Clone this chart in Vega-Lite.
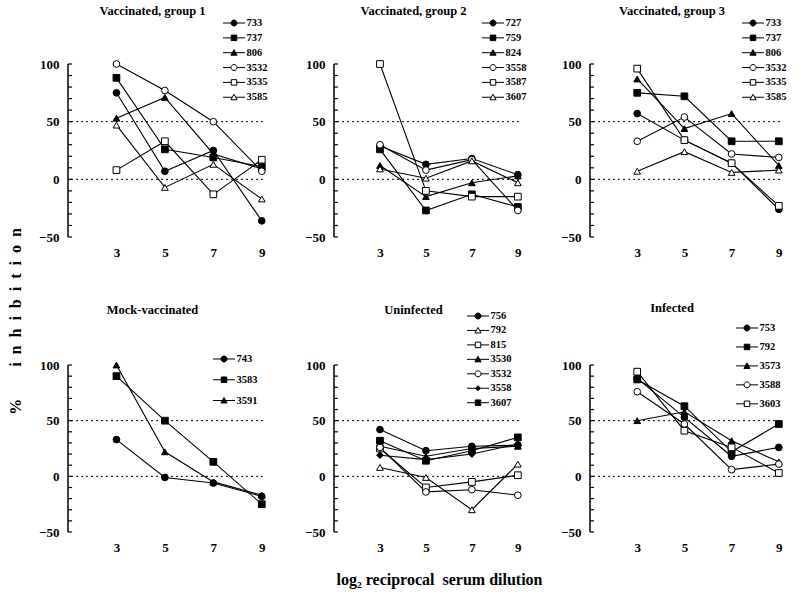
{
  "$schema": "https://vega.github.io/schema/vega-lite/v6.json",
  "padding": {"left": 7, "top": 5, "right": 5, "bottom": 5},
  "config": {
    "font": "Liberation Serif",
    "view": {"stroke": null},
    "axis": {"labelFontWeight": "bold", "labelFontSize": 13, "labelColor": "black", "grid": false, "labelFont": "Liberation Serif", "titleFont": "Liberation Serif", "labelOverlap": false},
    "title": {"font": "Liberation Serif", "fontSize": 12.5, "fontWeight": "bold", "color": "black"},
    "legend": {"labelFont": "Liberation Serif", "labelFontWeight": "bold", "labelFontSize": 10.5, "labelColor": "black", "symbolStrokeColor": "black", "symbolStrokeWidth": 1, "symbolSize": 100, "labelOffset": 7, "padding": 0, "symbolOffset": 0}
  },
  "datasets": {
    "g1": [
      {"animal": "733", "dilution": 3, "inhibition": 75}, {"animal": "733", "dilution": 5, "inhibition": 7}, {"animal": "733", "dilution": 7, "inhibition": 25}, {"animal": "733", "dilution": 9, "inhibition": -36},
      {"animal": "737", "dilution": 3, "inhibition": 88}, {"animal": "737", "dilution": 5, "inhibition": 26}, {"animal": "737", "dilution": 7, "inhibition": 19}, {"animal": "737", "dilution": 9, "inhibition": 11},
      {"animal": "806", "dilution": 3, "inhibition": 53}, {"animal": "806", "dilution": 5, "inhibition": 71}, {"animal": "806", "dilution": 7, "inhibition": 22}, {"animal": "806", "dilution": 9, "inhibition": 9},
      {"animal": "3532", "dilution": 3, "inhibition": 100}, {"animal": "3532", "dilution": 5, "inhibition": 77}, {"animal": "3532", "dilution": 7, "inhibition": 50}, {"animal": "3532", "dilution": 9, "inhibition": 7},
      {"animal": "3535", "dilution": 3, "inhibition": 8}, {"animal": "3535", "dilution": 5, "inhibition": 33}, {"animal": "3535", "dilution": 7, "inhibition": -13}, {"animal": "3535", "dilution": 9, "inhibition": 17},
      {"animal": "3585", "dilution": 3, "inhibition": 47}, {"animal": "3585", "dilution": 5, "inhibition": -7}, {"animal": "3585", "dilution": 7, "inhibition": 13}, {"animal": "3585", "dilution": 9, "inhibition": -17}
    ],
    "g2": [
      {"animal": "727", "dilution": 3, "inhibition": 29}, {"animal": "727", "dilution": 5, "inhibition": 13}, {"animal": "727", "dilution": 7, "inhibition": 18}, {"animal": "727", "dilution": 9, "inhibition": 4},
      {"animal": "759", "dilution": 3, "inhibition": 26}, {"animal": "759", "dilution": 5, "inhibition": -27}, {"animal": "759", "dilution": 7, "inhibition": -13}, {"animal": "759", "dilution": 9, "inhibition": -24},
      {"animal": "824", "dilution": 3, "inhibition": 12}, {"animal": "824", "dilution": 5, "inhibition": -15}, {"animal": "824", "dilution": 7, "inhibition": -3}, {"animal": "824", "dilution": 9, "inhibition": 3},
      {"animal": "3558", "dilution": 3, "inhibition": 30}, {"animal": "3558", "dilution": 5, "inhibition": 8}, {"animal": "3558", "dilution": 7, "inhibition": 17}, {"animal": "3558", "dilution": 9, "inhibition": -27},
      {"animal": "3587", "dilution": 3, "inhibition": 100}, {"animal": "3587", "dilution": 5, "inhibition": -10}, {"animal": "3587", "dilution": 7, "inhibition": -15}, {"animal": "3587", "dilution": 9, "inhibition": -15},
      {"animal": "3607", "dilution": 3, "inhibition": 9}, {"animal": "3607", "dilution": 5, "inhibition": 1}, {"animal": "3607", "dilution": 7, "inhibition": 16}, {"animal": "3607", "dilution": 9, "inhibition": -3}
    ],
    "g3": [
      {"animal": "733", "dilution": 3, "inhibition": 57}, {"animal": "733", "dilution": 5, "inhibition": 34}, {"animal": "733", "dilution": 7, "inhibition": 14}, {"animal": "733", "dilution": 9, "inhibition": -26},
      {"animal": "737", "dilution": 3, "inhibition": 75}, {"animal": "737", "dilution": 5, "inhibition": 72}, {"animal": "737", "dilution": 7, "inhibition": 33}, {"animal": "737", "dilution": 9, "inhibition": 33},
      {"animal": "806", "dilution": 3, "inhibition": 87}, {"animal": "806", "dilution": 5, "inhibition": 44}, {"animal": "806", "dilution": 7, "inhibition": 57}, {"animal": "806", "dilution": 9, "inhibition": 12},
      {"animal": "3532", "dilution": 3, "inhibition": 33}, {"animal": "3532", "dilution": 5, "inhibition": 54}, {"animal": "3532", "dilution": 7, "inhibition": 22}, {"animal": "3532", "dilution": 9, "inhibition": 19},
      {"animal": "3535", "dilution": 3, "inhibition": 96}, {"animal": "3535", "dilution": 5, "inhibition": 34}, {"animal": "3535", "dilution": 7, "inhibition": 14}, {"animal": "3535", "dilution": 9, "inhibition": -23},
      {"animal": "3585", "dilution": 3, "inhibition": 7}, {"animal": "3585", "dilution": 5, "inhibition": 24}, {"animal": "3585", "dilution": 7, "inhibition": 6}, {"animal": "3585", "dilution": 9, "inhibition": 8}
    ],
    "mock": [
      {"animal": "743", "dilution": 3, "inhibition": 33}, {"animal": "743", "dilution": 5, "inhibition": -1}, {"animal": "743", "dilution": 7, "inhibition": -6}, {"animal": "743", "dilution": 9, "inhibition": -18},
      {"animal": "3583", "dilution": 3, "inhibition": 90}, {"animal": "3583", "dilution": 5, "inhibition": 50}, {"animal": "3583", "dilution": 7, "inhibition": 13}, {"animal": "3583", "dilution": 9, "inhibition": -25},
      {"animal": "3591", "dilution": 3, "inhibition": 100}, {"animal": "3591", "dilution": 5, "inhibition": 22}, {"animal": "3591", "dilution": 7, "inhibition": -5}, {"animal": "3591", "dilution": 9, "inhibition": -17}
    ],
    "uninf": [
      {"animal": "756", "dilution": 3, "inhibition": 42}, {"animal": "756", "dilution": 5, "inhibition": 23}, {"animal": "756", "dilution": 7, "inhibition": 27}, {"animal": "756", "dilution": 9, "inhibition": 28},
      {"animal": "792", "dilution": 3, "inhibition": 8}, {"animal": "792", "dilution": 5, "inhibition": -1}, {"animal": "792", "dilution": 7, "inhibition": -30}, {"animal": "792", "dilution": 9, "inhibition": 11},
      {"animal": "815", "dilution": 3, "inhibition": 25}, {"animal": "815", "dilution": 5, "inhibition": -10}, {"animal": "815", "dilution": 7, "inhibition": -5}, {"animal": "815", "dilution": 9, "inhibition": 1},
      {"animal": "3530", "dilution": 3, "inhibition": 27}, {"animal": "3530", "dilution": 5, "inhibition": 18}, {"animal": "3530", "dilution": 7, "inhibition": 25}, {"animal": "3530", "dilution": 9, "inhibition": 27},
      {"animal": "3532", "dilution": 3, "inhibition": 26}, {"animal": "3532", "dilution": 5, "inhibition": -14}, {"animal": "3532", "dilution": 7, "inhibition": -12}, {"animal": "3532", "dilution": 9, "inhibition": -17},
      {"animal": "3558", "dilution": 3, "inhibition": 19}, {"animal": "3558", "dilution": 5, "inhibition": 15}, {"animal": "3558", "dilution": 7, "inhibition": 20}, {"animal": "3558", "dilution": 9, "inhibition": 29},
      {"animal": "3607", "dilution": 3, "inhibition": 32}, {"animal": "3607", "dilution": 5, "inhibition": 14}, {"animal": "3607", "dilution": 7, "inhibition": 23}, {"animal": "3607", "dilution": 9, "inhibition": 35}
    ],
    "inf": [
      {"animal": "753", "dilution": 3, "inhibition": 88}, {"animal": "753", "dilution": 5, "inhibition": 53}, {"animal": "753", "dilution": 7, "inhibition": 18}, {"animal": "753", "dilution": 9, "inhibition": 26},
      {"animal": "792", "dilution": 3, "inhibition": 87}, {"animal": "792", "dilution": 5, "inhibition": 63}, {"animal": "792", "dilution": 7, "inhibition": 22}, {"animal": "792", "dilution": 9, "inhibition": 47},
      {"animal": "3573", "dilution": 3, "inhibition": 50}, {"animal": "3573", "dilution": 5, "inhibition": 58}, {"animal": "3573", "dilution": 7, "inhibition": 32}, {"animal": "3573", "dilution": 9, "inhibition": 13},
      {"animal": "3588", "dilution": 3, "inhibition": 76}, {"animal": "3588", "dilution": 5, "inhibition": 47}, {"animal": "3588", "dilution": 7, "inhibition": 6}, {"animal": "3588", "dilution": 9, "inhibition": 11},
      {"animal": "3603", "dilution": 3, "inhibition": 94}, {"animal": "3603", "dilution": 5, "inhibition": 41}, {"animal": "3603", "dilution": 7, "inhibition": 26}, {"animal": "3603", "dilution": 9, "inhibition": 3}
    ],
    "refs": [{"level": 0}, {"level": 50}],
    "frame": [{"lo": -50, "hi": 100}],
    "ticks": [{"t": -50}, {"t": -40}, {"t": -30}, {"t": -20}, {"t": -10}, {"t": 0}, {"t": 10}, {"t": 20}, {"t": 30}, {"t": 40}, {"t": 50}, {"t": 60}, {"t": 70}, {"t": 80}, {"t": 90}, {"t": 100}]
  },
  "columns": 3,
  "bounds": "flush",
  "spacing": {"row": 128, "column": 71},
  "resolve": {"scale": {"x": "independent", "y": "independent", "fill": "independent", "shape": "independent"}, "legend": {"fill": "independent", "shape": "independent"}},
  "concat": [
    {
      "title": {"text": "Vaccinated, group 1", "dx": -13, "offset": 0},
      "width": 195, "height": 173,
      "layer": [
        {"data": {"name": "refs"}, "mark": {"type": "rule", "color": "black", "strokeWidth": 1, "strokeDash": [2, 3]},
         "encoding": {"y": {"field": "level", "type": "quantitative", "scale": {"domain": [-50, 100], "nice": false}, "axis": {"orient": "left", "values": [-50, 0, 50, 100], "ticks": false, "domain": false, "labelPadding": 9,
           "title": "%\u00a0\u00a0\u00a0\u00a0\u00a0\u00a0\u00a0\u00a0i\u00a0\u00a0n\u00a0\u00a0h\u00a0\u00a0i\u00a0\u00a0b\u00a0\u00a0i\u00a0\u00a0t\u00a0\u00a0i\u00a0\u00a0o\u00a0\u00a0n", "titleX": -53, "titleY": 257, "titleAngle": -90, "titleBaseline": "middle", "titleAlign": "center", "titleFontSize": 16, "titleFontWeight": "bold", "titleColor": "black"}}}},
        {"data": {"name": "frame"}, "mark": {"type": "rule", "color": "black", "strokeWidth": 1.5},
         "encoding": {"x": {"datum": 1, "type": "quantitative"}, "y": {"field": "lo", "type": "quantitative"}, "y2": {"field": "hi"}}},
        {"data": {"name": "ticks"}, "mark": {"type": "rule", "color": "black", "strokeWidth": 1.2},
         "encoding": {"x": {"datum": 1, "type": "quantitative"}, "x2": {"datum": 1.17}, "y": {"field": "t", "type": "quantitative"}}},
        {"data": {"name": "g1"}, "mark": {"type": "line", "color": "black", "strokeWidth": 1.1},
         "encoding": {"x": {"field": "dilution", "type": "quantitative", "scale": {"domain": [1, 9.05], "nice": false, "zero": false}, "axis": {"values": [3,5,7,9], "domain": false, "ticks": false, "labelPadding": 9, "title": null}},
           "y": {"field": "inhibition", "type": "quantitative"}, "detail": {"field": "animal", "type": "nominal"}}},
        {"data": {"name": "g1"}, "mark": {"type": "point", "filled": true, "stroke": "black", "strokeWidth": 1, "opacity": 1, "size": 45},
         "encoding": {"x": {"field": "dilution", "type": "quantitative"}, "y": {"field": "inhibition", "type": "quantitative"},
           "shape": {"field": "animal", "type": "nominal", "scale": {"domain": ["3585","3535","3532","806","737","733"], "range": ["triangle-up","square","circle","triangle-up","square","circle"]}, "legend": null},
           "fill": {"field": "animal", "type": "nominal", "scale": {"domain": ["733","737","806","3532","3535","3585"], "range": ["black","black","black","white","white","white"]},
             "legend": {"title": null, "orient": "none", "legendX": 160.5, "legendY": -46.5, "rowPadding": 3.85,
               "symbolType": {"expr": "['M-2.2,0H-0.6M0.6,0H2.2M-0.6,0A0.6,0.6,0,1,1,0.6,0A0.6,0.6,0,1,1,-0.6,0Z','M-2.2,0H-0.55M0.55,0H2.2M-0.55,-0.55H0.55V0.55H-0.55Z','M-2.2,0H-0.33M0.33,0H2.2M0,-0.6L0.62,0.5H-0.62Z','M-2.2,0H-0.6M0.6,0H2.2M-0.6,0A0.6,0.6,0,1,1,0.6,0A0.6,0.6,0,1,1,-0.6,0Z','M-2.2,0H-0.55M0.55,0H2.2M-0.55,-0.55H0.55V0.55H-0.55Z','M-2.2,0H-0.33M0.33,0H2.2M0,-0.6L0.62,0.5H-0.62Z'][indexof(['733','737','806','3532','3535','3585'], datum.value)]"}}}}}
      ]
    },
    {
      "title": {"text": "Vaccinated, group 2", "dx": -13, "offset": 0},
      "width": 185, "height": 173,
      "layer": [
        {"data": {"name": "refs"}, "mark": {"type": "rule", "color": "black", "strokeWidth": 1, "strokeDash": [2, 3]},
         "encoding": {"y": {"field": "level", "type": "quantitative", "scale": {"domain": [-50, 100], "nice": false}, "axis": {"orient": "left", "values": [-50, 0, 50, 100], "ticks": false, "domain": false, "labelPadding": 9, "title": null}}}},
        {"data": {"name": "frame"}, "mark": {"type": "rule", "color": "black", "strokeWidth": 1.5},
         "encoding": {"x": {"datum": 1, "type": "quantitative"}, "y": {"field": "lo", "type": "quantitative"}, "y2": {"field": "hi"}}},
        {"data": {"name": "ticks"}, "mark": {"type": "rule", "color": "black", "strokeWidth": 1.2},
         "encoding": {"x": {"datum": 1, "type": "quantitative"}, "x2": {"datum": 1.17}, "y": {"field": "t", "type": "quantitative"}}},
        {"data": {"name": "g2"}, "mark": {"type": "line", "color": "black", "strokeWidth": 1.1},
         "encoding": {"x": {"field": "dilution", "type": "quantitative", "scale": {"domain": [1, 9.05], "nice": false, "zero": false}, "axis": {"values": [3,5,7,9], "domain": false, "ticks": false, "labelPadding": 9, "title": null}},
           "y": {"field": "inhibition", "type": "quantitative"}, "detail": {"field": "animal", "type": "nominal"}}},
        {"data": {"name": "g2"}, "mark": {"type": "point", "filled": true, "stroke": "black", "strokeWidth": 1, "opacity": 1, "size": 45},
         "encoding": {"x": {"field": "dilution", "type": "quantitative"}, "y": {"field": "inhibition", "type": "quantitative"},
           "shape": {"field": "animal", "type": "nominal", "scale": {"domain": ["3607","3587","3558","824","759","727"], "range": ["triangle-up","square","circle","triangle-up","square","circle"]}, "legend": null},
           "fill": {"field": "animal", "type": "nominal", "scale": {"domain": ["727","759","824","3558","3587","3607"], "range": ["black","black","black","white","white","white"]},
             "legend": {"title": null, "orient": "none", "legendX": 153.5, "legendY": -46.5, "rowPadding": 3.85,
               "symbolType": {"expr": "['M-2.2,0H-0.6M0.6,0H2.2M-0.6,0A0.6,0.6,0,1,1,0.6,0A0.6,0.6,0,1,1,-0.6,0Z','M-2.2,0H-0.55M0.55,0H2.2M-0.55,-0.55H0.55V0.55H-0.55Z','M-2.2,0H-0.33M0.33,0H2.2M0,-0.6L0.62,0.5H-0.62Z','M-2.2,0H-0.6M0.6,0H2.2M-0.6,0A0.6,0.6,0,1,1,0.6,0A0.6,0.6,0,1,1,-0.6,0Z','M-2.2,0H-0.55M0.55,0H2.2M-0.55,-0.55H0.55V0.55H-0.55Z','M-2.2,0H-0.33M0.33,0H2.2M0,-0.6L0.62,0.5H-0.62Z'][indexof(['727','759','824','3558','3587','3607'], datum.value)]"}}}}}
      ]
    },
    {
      "title": {"text": "Vaccinated, group 3", "dx": -13, "offset": 0},
      "width": 190, "height": 173,
      "layer": [
        {"data": {"name": "refs"}, "mark": {"type": "rule", "color": "black", "strokeWidth": 1, "strokeDash": [2, 3]},
         "encoding": {"y": {"field": "level", "type": "quantitative", "scale": {"domain": [-50, 100], "nice": false}, "axis": {"orient": "left", "values": [-50, 0, 50, 100], "ticks": false, "domain": false, "labelPadding": 9, "title": null}}}},
        {"data": {"name": "frame"}, "mark": {"type": "rule", "color": "black", "strokeWidth": 1.5},
         "encoding": {"x": {"datum": 1, "type": "quantitative"}, "y": {"field": "lo", "type": "quantitative"}, "y2": {"field": "hi"}}},
        {"data": {"name": "ticks"}, "mark": {"type": "rule", "color": "black", "strokeWidth": 1.2},
         "encoding": {"x": {"datum": 1, "type": "quantitative"}, "x2": {"datum": 1.17}, "y": {"field": "t", "type": "quantitative"}}},
        {"data": {"name": "g3"}, "mark": {"type": "line", "color": "black", "strokeWidth": 1.1},
         "encoding": {"x": {"field": "dilution", "type": "quantitative", "scale": {"domain": [1, 9.05], "nice": false, "zero": false}, "axis": {"values": [3,5,7,9], "domain": false, "ticks": false, "labelPadding": 9, "title": null}},
           "y": {"field": "inhibition", "type": "quantitative"}, "detail": {"field": "animal", "type": "nominal"}}},
        {"data": {"name": "g3"}, "mark": {"type": "point", "filled": true, "stroke": "black", "strokeWidth": 1, "opacity": 1, "size": 45},
         "encoding": {"x": {"field": "dilution", "type": "quantitative"}, "y": {"field": "inhibition", "type": "quantitative"},
           "shape": {"field": "animal", "type": "nominal", "scale": {"domain": ["3585","3535","3532","806","737","733"], "range": ["triangle-up","square","circle","triangle-up","square","circle"]}, "legend": null},
           "fill": {"field": "animal", "type": "nominal", "scale": {"domain": ["733","737","806","3532","3535","3585"], "range": ["black","black","black","white","white","white"]},
             "legend": {"title": null, "orient": "none", "legendX": 157.5, "legendY": -46.5, "rowPadding": 3.85,
               "symbolType": {"expr": "['M-2.2,0H-0.6M0.6,0H2.2M-0.6,0A0.6,0.6,0,1,1,0.6,0A0.6,0.6,0,1,1,-0.6,0Z','M-2.2,0H-0.55M0.55,0H2.2M-0.55,-0.55H0.55V0.55H-0.55Z','M-2.2,0H-0.33M0.33,0H2.2M0,-0.6L0.62,0.5H-0.62Z','M-2.2,0H-0.6M0.6,0H2.2M-0.6,0A0.6,0.6,0,1,1,0.6,0A0.6,0.6,0,1,1,-0.6,0Z','M-2.2,0H-0.55M0.55,0H2.2M-0.55,-0.55H0.55V0.55H-0.55Z','M-2.2,0H-0.33M0.33,0H2.2M0,-0.6L0.62,0.5H-0.62Z'][indexof(['733','737','806','3532','3535','3585'], datum.value)]"}}}}}
      ]
    },
    {
      "title": {"text": "Mock-vaccinated", "dx": -13, "offset": 37},
      "width": 195, "height": 167,
      "layer": [
        {"data": {"name": "refs"}, "mark": {"type": "rule", "color": "black", "strokeWidth": 1, "strokeDash": [2, 3]},
         "encoding": {"y": {"field": "level", "type": "quantitative", "scale": {"domain": [-50, 100], "nice": false}, "axis": {"orient": "left", "values": [-50, 0, 50, 100], "ticks": false, "domain": false, "labelPadding": 9, "title": null}}}},
        {"data": {"name": "frame"}, "mark": {"type": "rule", "color": "black", "strokeWidth": 1.5},
         "encoding": {"x": {"datum": 1, "type": "quantitative"}, "y": {"field": "lo", "type": "quantitative"}, "y2": {"field": "hi"}}},
        {"data": {"name": "ticks"}, "mark": {"type": "rule", "color": "black", "strokeWidth": 1.2},
         "encoding": {"x": {"datum": 1, "type": "quantitative"}, "x2": {"datum": 1.17}, "y": {"field": "t", "type": "quantitative"}}},
        {"data": {"name": "mock"}, "mark": {"type": "line", "color": "black", "strokeWidth": 1.1},
         "encoding": {"x": {"field": "dilution", "type": "quantitative", "scale": {"domain": [1, 9.05], "nice": false, "zero": false}, "axis": {"values": [3,5,7,9], "domain": false, "ticks": false, "labelPadding": 9, "title": null}},
           "y": {"field": "inhibition", "type": "quantitative"}, "detail": {"field": "animal", "type": "nominal"}}},
        {"data": {"name": "mock"}, "mark": {"type": "point", "filled": true, "stroke": "black", "strokeWidth": 1, "opacity": 1, "size": 45},
         "encoding": {"x": {"field": "dilution", "type": "quantitative"}, "y": {"field": "inhibition", "type": "quantitative"},
           "shape": {"field": "animal", "type": "nominal", "scale": {"domain": ["3591","3583","743"], "range": ["triangle-up","square","circle"]}, "legend": null},
           "fill": {"field": "animal", "type": "nominal", "scale": {"domain": ["743","3583","3591"], "range": ["black","black","black"]},
             "legend": {"title": null, "orient": "none", "legendX": 150.5, "legendY": -11.5, "rowPadding": 9.75,
               "symbolType": {"expr": "['M-2.2,0H-0.6M0.6,0H2.2M-0.6,0A0.6,0.6,0,1,1,0.6,0A0.6,0.6,0,1,1,-0.6,0Z','M-2.2,0H-0.55M0.55,0H2.2M-0.55,-0.55H0.55V0.55H-0.55Z','M-2.2,0H-0.33M0.33,0H2.2M0,-0.6L0.62,0.5H-0.62Z'][indexof(['743','3583','3591'], datum.value)]"}}}}}
      ]
    },
    {
      "title": {"text": "Uninfected", "dx": -13, "offset": -6},
      "width": 185, "height": 167,
      "layer": [
        {"data": {"name": "refs"}, "mark": {"type": "rule", "color": "black", "strokeWidth": 1, "strokeDash": [2, 3]},
         "encoding": {"y": {"field": "level", "type": "quantitative", "scale": {"domain": [-50, 100], "nice": false}, "axis": {"orient": "left", "values": [-50, 0, 50, 100], "ticks": false, "domain": false, "labelPadding": 9, "title": null}}}},
        {"data": {"name": "frame"}, "mark": {"type": "rule", "color": "black", "strokeWidth": 1.5},
         "encoding": {"x": {"datum": 1, "type": "quantitative"}, "y": {"field": "lo", "type": "quantitative"}, "y2": {"field": "hi"}}},
        {"data": {"name": "ticks"}, "mark": {"type": "rule", "color": "black", "strokeWidth": 1.2},
         "encoding": {"x": {"datum": 1, "type": "quantitative"}, "x2": {"datum": 1.17}, "y": {"field": "t", "type": "quantitative"}}},
        {"data": {"name": "uninf"}, "mark": {"type": "line", "color": "black", "strokeWidth": 1.1},
         "encoding": {"x": {"field": "dilution", "type": "quantitative", "scale": {"domain": [1, 9.05], "nice": false, "zero": false}, "axis": {"values": [3,5,7,9], "domain": false, "ticks": false, "labelPadding": 9,
           "title": "log\u2082 reciprocal\u00a0 serum dilution", "titleX": 105, "titleY": 47, "titleBaseline": "middle", "titleAlign": "center", "titleFontSize": 16, "titleFontWeight": "bold", "titleColor": "black"}},
           "y": {"field": "inhibition", "type": "quantitative"}, "detail": {"field": "animal", "type": "nominal"}}},
        {"data": {"name": "uninf"}, "mark": {"type": "point", "filled": true, "stroke": "black", "strokeWidth": 1, "opacity": 1, "size": 45},
         "encoding": {"x": {"field": "dilution", "type": "quantitative"}, "y": {"field": "inhibition", "type": "quantitative"},
           "shape": {"field": "animal", "type": "nominal", "scale": {"domain": ["3607","3558","3532","3530","815","792","756"], "range": ["square","diamond","circle","triangle-up","square","triangle-up","circle"]}, "legend": null},
           "fill": {"field": "animal", "type": "nominal", "scale": {"domain": ["756","792","815","3530","3532","3558","3607"], "range": ["black","white","white","black","white","black","black"]},
             "legend": {"title": null, "orient": "none", "legendX": 138.5, "legendY": -54.5, "rowPadding": 3.45,
               "symbolType": {"expr": "['M-2.2,0H-0.6M0.6,0H2.2M-0.6,0A0.6,0.6,0,1,1,0.6,0A0.6,0.6,0,1,1,-0.6,0Z','M-2.2,0H-0.33M0.33,0H2.2M0,-0.6L0.62,0.5H-0.62Z','M-2.2,0H-0.55M0.55,0H2.2M-0.55,-0.55H0.55V0.55H-0.55Z','M-2.2,0H-0.33M0.33,0H2.2M0,-0.6L0.62,0.5H-0.62Z','M-2.2,0H-0.6M0.6,0H2.2M-0.6,0A0.6,0.6,0,1,1,0.6,0A0.6,0.6,0,1,1,-0.6,0Z','M-2.2,0H-0.5M0.5,0H2.2M0,-0.5L0.5,0L0,0.5L-0.5,0Z','M-2.2,0H-0.55M0.55,0H2.2M-0.55,-0.55H0.55V0.55H-0.55Z'][indexof(['756','792','815','3530','3532','3558','3607'], datum.value)]"}}}}}
      ]
    },
    {
      "title": {"text": "Infected", "dx": -13, "offset": 8},
      "width": 190, "height": 167,
      "layer": [
        {"data": {"name": "refs"}, "mark": {"type": "rule", "color": "black", "strokeWidth": 1, "strokeDash": [2, 3]},
         "encoding": {"y": {"field": "level", "type": "quantitative", "scale": {"domain": [-50, 100], "nice": false}, "axis": {"orient": "left", "values": [-50, 0, 50, 100], "ticks": false, "domain": false, "labelPadding": 9, "title": null}}}},
        {"data": {"name": "frame"}, "mark": {"type": "rule", "color": "black", "strokeWidth": 1.5},
         "encoding": {"x": {"datum": 1, "type": "quantitative"}, "y": {"field": "lo", "type": "quantitative"}, "y2": {"field": "hi"}}},
        {"data": {"name": "ticks"}, "mark": {"type": "rule", "color": "black", "strokeWidth": 1.2},
         "encoding": {"x": {"datum": 1, "type": "quantitative"}, "x2": {"datum": 1.17}, "y": {"field": "t", "type": "quantitative"}}},
        {"data": {"name": "inf"}, "mark": {"type": "line", "color": "black", "strokeWidth": 1.1},
         "encoding": {"x": {"field": "dilution", "type": "quantitative", "scale": {"domain": [1, 9.05], "nice": false, "zero": false}, "axis": {"values": [3,5,7,9], "domain": false, "ticks": false, "labelPadding": 9, "title": null}},
           "y": {"field": "inhibition", "type": "quantitative"}, "detail": {"field": "animal", "type": "nominal"}}},
        {"data": {"name": "inf"}, "mark": {"type": "point", "filled": true, "stroke": "black", "strokeWidth": 1, "opacity": 1, "size": 45},
         "encoding": {"x": {"field": "dilution", "type": "quantitative"}, "y": {"field": "inhibition", "type": "quantitative"},
           "shape": {"field": "animal", "type": "nominal", "scale": {"domain": ["3603","3588","3573","792","753"], "range": ["square","circle","triangle-up","square","circle"]}, "legend": null},
           "fill": {"field": "animal", "type": "nominal", "scale": {"domain": ["753","792","3573","3588","3603"], "range": ["black","black","black","white","white"]},
             "legend": {"title": null, "orient": "none", "legendX": 151.5, "legendY": -42.5, "rowPadding": 7.95,
               "symbolType": {"expr": "['M-2.2,0H-0.6M0.6,0H2.2M-0.6,0A0.6,0.6,0,1,1,0.6,0A0.6,0.6,0,1,1,-0.6,0Z','M-2.2,0H-0.55M0.55,0H2.2M-0.55,-0.55H0.55V0.55H-0.55Z','M-2.2,0H-0.33M0.33,0H2.2M0,-0.6L0.62,0.5H-0.62Z','M-2.2,0H-0.6M0.6,0H2.2M-0.6,0A0.6,0.6,0,1,1,0.6,0A0.6,0.6,0,1,1,-0.6,0Z','M-2.2,0H-0.55M0.55,0H2.2M-0.55,-0.55H0.55V0.55H-0.55Z'][indexof(['753','792','3573','3588','3603'], datum.value)]"}}}}}
      ]
    }
  ]
}
